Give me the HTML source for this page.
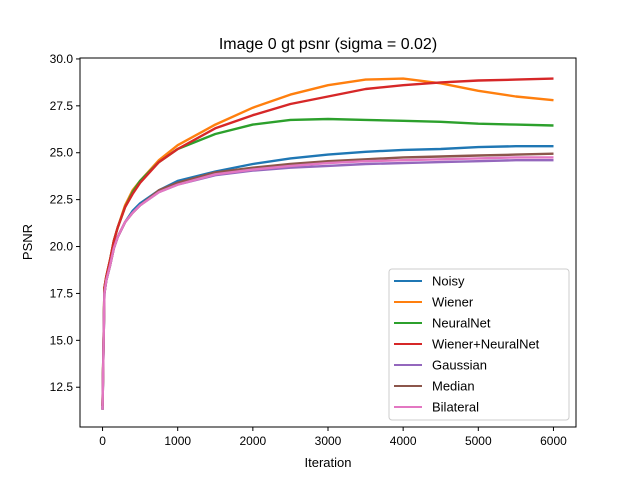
<!DOCTYPE html>
<html><head><meta charset="utf-8"><style>
body{margin:0;background:#fff;}
svg text{font-family:"Liberation Sans","DejaVu Sans",sans-serif;}
</style></head><body>
<svg id="chart" width="640" height="480" xmlns="http://www.w3.org/2000/svg">
<rect width="640" height="480" fill="#fff"/>
<text x="328" y="49" text-anchor="middle" font-size="16">Image 0 gt psnr (sigma = 0.02)</text>
<g id="plot"></g>
<rect x="80" y="58" width="496" height="369" fill="none" stroke="#000" stroke-width="1"/>
<text x="328" y="467" text-anchor="middle" font-size="13">Iteration</text>
<text x="32" y="242" text-anchor="middle" font-size="13" transform="rotate(-90 32 242)">PSNR</text>
<g id="legend"></g>
</svg>
<script>
const iterations=[0,25,50,100,150,200,300,400,500,750,1000,1500,2000,2500,3000,3500,4000,4500,5000,5500,6000];
const seriesNames=["Noisy","Wiener","NeuralNet","Wiener+NeuralNet","Gaussian","Median","Bilateral"];
const colors=["#1f77b4","#ff7f0e","#2ca02c","#d62728","#9467bd","#8c564b","#e377c2"];
const noisy=[11.3,17.5,18.2,19.0,19.9,20.5,21.3,21.9,22.3,23.0,23.5,24.0,24.4,24.7,24.9,25.05,25.15,25.2,25.3,25.35,25.35];
const wiener=[11.5,17.8,18.4,19.3,20.3,21.0,22.2,23.0,23.5,24.6,25.4,26.5,27.4,28.1,28.6,28.9,28.95,28.7,28.3,28.0,27.8];
const neuralnet=[11.5,17.8,18.4,19.3,20.3,21.0,22.1,22.9,23.5,24.5,25.2,26.0,26.5,26.75,26.8,26.75,26.7,26.65,26.55,26.5,26.45];
const wienerNN=[11.5,17.8,18.4,19.3,20.3,21.0,22.1,22.8,23.4,24.5,25.2,26.3,27.0,27.6,28.0,28.4,28.6,28.75,28.85,28.9,28.95];
const gaussian=[11.3,17.5,18.2,19.0,19.9,20.5,21.3,21.8,22.2,22.9,23.3,23.8,24.05,24.2,24.3,24.4,24.45,24.5,24.55,24.6,24.6];
const median=[11.3,17.5,18.2,19.0,19.9,20.5,21.3,21.8,22.2,23.0,23.4,23.95,24.2,24.4,24.55,24.65,24.75,24.8,24.85,24.9,24.95];
const bilateral=[11.3,17.5,18.2,19.0,19.9,20.5,21.3,21.8,22.2,22.9,23.3,23.85,24.1,24.3,24.45,24.55,24.6,24.65,24.7,24.75,24.75];
const xTicks=[0,1000,2000,3000,4000,5000,6000];
const yTicks=[12.5,15.0,17.5,20.0,22.5,25.0,27.5,30.0];
const allSeries=[noisy,wiener,neuralnet,wienerNN,gaussian,median,bilateral];

const NS="http://www.w3.org/2000/svg";
const X0=80,X1=576,Y0=58,Y1=427,xmin=-300,xmax=6300,ymin=10.38,ymax=30.05;
function xs(v){return X0+(v-xmin)/(xmax-xmin)*(X1-X0);}
function ys(v){return Y1-(v-ymin)/(ymax-ymin)*(Y1-Y0);}
function mk(tag,attrs,parent){const e=document.createElementNS(NS,tag);for(const k in attrs)e.setAttribute(k,attrs[k]);parent.appendChild(e);return e;}
const svg=document.getElementById('chart');
const plot=document.getElementById('plot');
xTicks.forEach(t=>{
  const x=xs(t);
  const l=mk('line',{x1:x,x2:x,y1:Y1,y2:Y1+4,stroke:'#000'},svg);
  
  
  const tx=mk('text',{x:x,y:Y1+18,'text-anchor':'middle','font-size':12},svg);
  tx.textContent=t;
  
  
});
yTicks.forEach(t=>{
  const y=ys(t);
  const l=mk('line',{x1:X0-4,x2:X0,y1:y,y2:y,stroke:'#000'},svg);
  
  
  const tx=mk('text',{x:X0-7,y:y+4,'text-anchor':'end','font-size':12},svg);
  tx.textContent=t.toFixed(1);
  
  
});
allSeries.forEach((s,i)=>{
  const d=s.map((v,j)=>(j?'L':'M')+xs(iterations[j]).toFixed(1)+','+ys(v).toFixed(1)).join('');
  const p=mk('path',{d:d,fill:'none',stroke:colors[i],'stroke-width':2.4,'stroke-linejoin':'round'},plot);
  
  
});
const lg=document.getElementById('legend');


mk('rect',{x:389,y:269,width:180,height:151,rx:3,fill:'#fff','fill-opacity':0.8,stroke:'#ccc'},lg);
seriesNames.forEach((n,i)=>{
  const y=281+i*21;
  const l=mk('line',{x1:394,x2:422,y1:y,y2:y,stroke:colors[i],'stroke-width':2},lg);
  
  
  const t=mk('text',{x:432,y:y+4.5,'font-size':13},lg);
  t.textContent=n;
  
  
});
</script>
</body></html>
